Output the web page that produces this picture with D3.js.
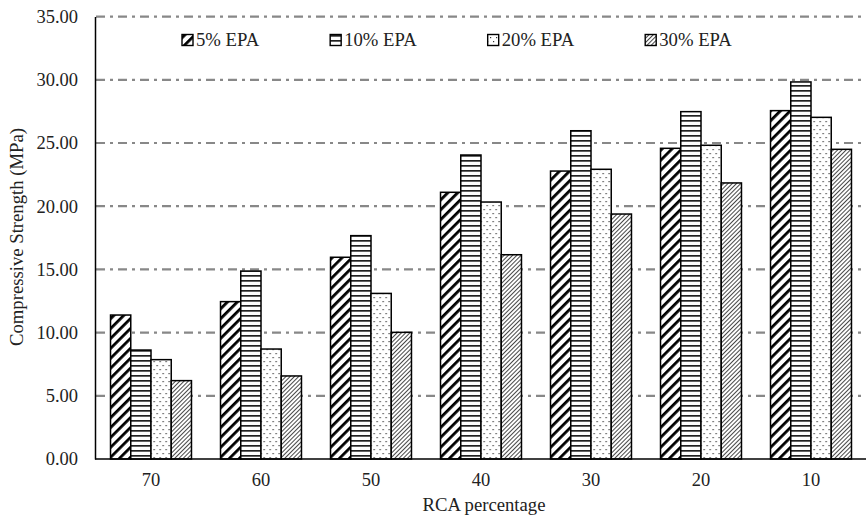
<!DOCTYPE html>
<html>
<head>
<meta charset="utf-8">
<script src="https://cdn.jsdelivr.net/npm/d3@7"></script>
<style>
  body { margin: 0; background: #fff; }
  text { font-family: "Liberation Serif", "Times New Roman", serif; fill: #222; }
</style>
</head>
<body>
<svg width="866" height="526"></svg>
<script>
const categories = ["70", "60", "50", "40", "30", "20", "10"]
const seriesNames = ["5% EPA", "10% EPA", "20% EPA", "30% EPA"]
const epa5 = [11.39, 12.45, 15.96, 21.1, 22.78, 24.58, 27.56]
const epa10 = [8.62, 14.87, 17.67, 24.05, 25.97, 27.48, 29.83]
const epa20 = [7.86, 8.7, 13.1, 20.33, 22.92, 24.82, 27.03]
const epa30 = [6.2, 6.57, 10.02, 16.16, 19.38, 21.84, 24.5]
const yTicks = [0, 5, 10, 15, 20, 25, 30, 35]

const seriesValues = [epa5, epa10, epa20, epa30]
const patternIds = ["p5", "p10", "p20", "p30"]

function drawChart(){
    const svg = d3.select("svg")
    addPatterns(svg)

    const x = d3.scaleBand().domain(categories).range([96, 866])
        .paddingInner(0.264).paddingOuter(0.132)
    const xs = d3.scaleBand().domain(seriesNames).range([0, x.bandwidth()])
    const y = d3.scaleLinear().domain([0, 35]).range([459, 16.6])

    // dash-dot gridlines
    svg.append("g")
        .selectAll("line")
        .data(yTicks.filter(t => t > 0))
        .enter()
        .append("line")
        .attr("x1", 96).attr("x2", 866)
        .attr("y1", d => y(d)).attr("y2", d => y(d))
        .attr("stroke", "#888")
        .attr("stroke-width", 2.2)
        .attr("stroke-dasharray", "9,5,3,5")

    const rows = categories.map((c, i) => ({ cat: c, vals: seriesValues.map((s, j) => ({ name: seriesNames[j], v: s[i], pid: patternIds[j] })) }))

    svg.append("g")
        .selectAll("g")
        .data(rows)
        .enter()
        .append("g")
        .attr("transform", d => "translate(" + x(d.cat) + ",0)")
        .selectAll("rect")
        .data(d => d.vals)
        .enter()
        .append("rect")
        .attr("x", d => xs(d.name))
        .attr("width", xs.bandwidth())
        .attr("y", d => y(d.v))
        .attr("height", d => y(0) - y(d.v))
        .attr("fill", d => "url(#" + d.pid + ")")
        .attr("stroke", "#000")
        .attr("stroke-width", 1.5)

    // y axis
    const yAxis = svg.append("g")
        .attr("transform", "translate(95,0)")
        .call(d3.axisLeft(y).tickValues(yTicks).tickFormat(d3.format(".2f")).tickSize(0).tickPadding(17))
    yAxis.select(".domain").attr("stroke", "#000").attr("stroke-width", 1.5)
    yAxis.selectAll("text").attr("font-size", 18.5).attr("fill", "#222")
        .attr("font-family", "Liberation Serif")

    // x axis
    const xAxis = svg.append("g")
        .attr("transform", "translate(0,459)")
        .call(d3.axisBottom(x).tickSize(0).tickPadding(14))
    xAxis.select(".domain").attr("d", "M95,0H866").attr("stroke", "#000").attr("stroke-width", 1.5)
    xAxis.selectAll("text").attr("font-size", 18.5).attr("fill", "#222")
        .attr("font-family", "Liberation Serif")

    svg.append("text")
        .attr("x", 484).attr("y", 511)
        .attr("text-anchor", "middle")
        .attr("font-size", 18.7)
        .text("RCA percentage")

    svg.append("text")
        .attr("transform", "translate(23,237) rotate(-90)")
        .attr("text-anchor", "middle")
        .attr("font-size", 18.7)
        .text("Compressive Strength (MPa)")

    addLegend(svg)
}

function addPatterns(svg){
    const defs = svg.append("defs")

    defs.append("pattern").attr("id", "p5")
        .attr("patternUnits", "userSpaceOnUse")
        .attr("width", 7).attr("height", 7)
        .attr("patternTransform", "rotate(45)")
        .call(p => p.append("rect").attr("width", 7).attr("height", 7).attr("fill", "#fff"))
        .append("rect").attr("width", 2.8).attr("height", 7).attr("fill", "#000")

    defs.append("pattern").attr("id", "p10")
        .attr("patternUnits", "userSpaceOnUse")
        .attr("width", 5).attr("height", 5)
        .call(p => p.append("rect").attr("width", 5).attr("height", 5).attr("fill", "#fff"))
        .append("rect").attr("width", 5).attr("height", 1.7).attr("fill", "#222")

    const dots = defs.append("pattern").attr("id", "p20")
        .attr("patternUnits", "userSpaceOnUse")
        .attr("width", 6).attr("height", 8)
    dots.append("rect").attr("width", 6).attr("height", 8).attr("fill", "#fff")
    dots.append("rect").attr("x", 1).attr("y", 1).attr("width", 1.2).attr("height", 1.2).attr("fill", "#333")
    dots.append("rect").attr("x", 4).attr("y", 5).attr("width", 1.2).attr("height", 1.2).attr("fill", "#333")

    defs.append("pattern").attr("id", "p30")
        .attr("patternUnits", "userSpaceOnUse")
        .attr("width", 3).attr("height", 3)
        .attr("patternTransform", "rotate(45)")
        .call(p => p.append("rect").attr("width", 3).attr("height", 3).attr("fill", "#fff"))
        .append("rect").attr("width", 0.9).attr("height", 3).attr("fill", "#333")
}

function addLegend(svg){
    const lg = svg.append("g").attr("class", "legend")
    let cx = 182
    seriesNames.forEach((name, i) => {
        lg.append("rect")
            .attr("x", cx).attr("y", 34.5)
            .attr("width", 11).attr("height", 11)
            .attr("fill", "url(#" + patternIds[i] + ")")
            .attr("stroke", "#000").attr("stroke-width", 1.4)
        const t = lg.append("text")
            .attr("x", cx + 14).attr("y", 45.5)
            .attr("font-size", 18.7)
            .text(name)
        cx = cx + 14 + t.node().getComputedTextLength() + 71
    })
}

drawChart()
</script>
</body>
</html>
